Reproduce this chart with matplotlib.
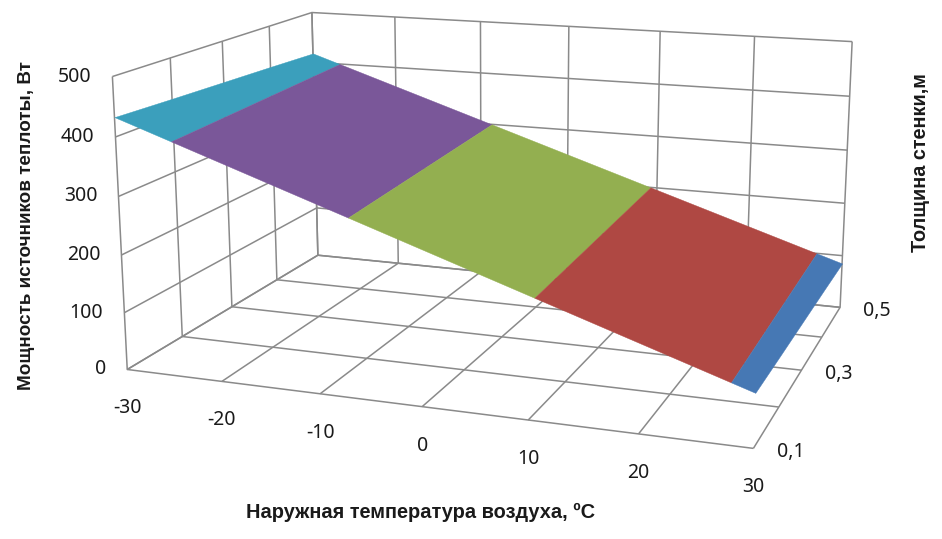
import numpy as np
import matplotlib
matplotlib.use("Agg")
import matplotlib.pyplot as plt
from mpl_toolkits.mplot3d import proj3d
from mpl_toolkits.mplot3d.art3d import Poly3DCollection

plt.rcParams['font.family'] = ['Noto Sans', 'DejaVu Sans']

temps = [-30, -20, -10, 0, 10, 20, 30]
thickness = [0.1, 0.2, 0.3, 0.4, 0.5]
power_01 = [433, 375.5, 318, 260.5, 203, 145.5, 88]
power_02 = [429, 372, 315, 258, 201, 144, 87]
power_03 = [425.5, 369, 312.5, 256, 199.5, 143, 86.5]
power_04 = [422, 366, 310, 254, 198, 142, 86]
power_05 = [418, 362.5, 307, 251.5, 196, 140.5, 85]
power_ticks = [0, 100, 200, 300, 400, 500]
thickness_labels = {0.1: "0,1", 0.3: "0,3", 0.5: "0,5"}
band_colors = ['#4678B4', '#AF4843', '#93AF50', '#7A5799', '#3B9FBC']

fig_w, fig_h = 942, 539
fig = plt.figure(figsize=(fig_w / 100, fig_h / 100), dpi=100)

# camera and axes box worked out against the corners of the reference
scale, center_x, center_y = 4222.8, 501.85, 200.04
side = scale * 0.185
ax = fig.add_axes([(center_x - 0.095 * scale) / fig_w,
                   (fig_h - center_y - 0.095 * scale) / fig_h,
                   side / fig_w, side / fig_h], projection='3d')
ax.set_xlim(-30, 30, view_margin=0)
ax.set_ylim(0.1, 0.5, view_margin=0)
ax.set_zlim(0, 500, view_margin=0)
ax.set_box_aspect((2.139, 1.510, 1))
ax.set_proj_type('persp', focal_length=0.447)
ax.view_init(elev=14.009, azim=-70.378)

ax.patch.set_alpha(0)
for axis in (ax.xaxis, ax.yaxis, ax.zaxis):
    axis.set_pane_color((1, 1, 1, 0))
    axis.pane.set_edgecolor((1, 1, 1, 0))
    axis.line.set_color((1, 1, 1, 0))
    axis._axinfo['grid'].update(color='#8a8a8a', linewidth=1.1)
    axis._axinfo['tick'].update(inward_factor=0, outward_factor=0)
ax.set_xticks(temps)
ax.set_yticks(thickness)
ax.set_zticks(power_ticks)
ax.set_xticklabels([])
ax.set_yticklabels([])
ax.set_zticklabels([])

power = np.array([power_01, power_02, power_03, power_04, power_05])


def clip(poly, lo, hi):
    """Cuts a polygon down to the part with lo <= z <= hi."""
    for limit, sign in ((lo, 1), (hi, -1)):
        out = []
        for i in range(len(poly)):
            a, b = np.array(poly[i]), np.array(poly[(i + 1) % len(poly)])
            da, db = sign * (a[2] - limit), sign * (b[2] - limit)
            if da >= 0:
                out.append(a)
            if da * db < 0:
                out.append(a + (b - a) * da / (da - db))
        poly = out
    return poly


# outline of the surface, so each colour band is one polygon with no seams
outline = [(t, thickness[0], z) for t, z in zip(temps, power[0])]
outline += [(temps[-1], y, z) for y, z in zip(thickness[1:], power[1:, -1])]
outline += [(t, thickness[-1], z) for t, z in zip(temps[-2::-1], power[-1, -2::-1])]
outline += [(temps[0], y, z) for y, z in zip(thickness[-2:0:-1], power[-2:0:-1, 0])]

for k, color in enumerate(band_colors):
    piece = clip(outline, power_ticks[k], power_ticks[k + 1])
    ax.add_collection3d(Poly3DCollection([piece], facecolor=color, edgecolor=color, linewidth=0.3))


def tick_label(x, y, z, text, dx, dy, **kw):
    px, py, _ = proj3d.proj_transform(x, y, z, ax.get_proj())
    ax.annotate(text, (px, py), xytext=(dx * 0.72, dy * 0.72), textcoords='offset points',
                va='center', fontsize=14, color='#1a1a1a', **kw)


for t in temps:
    tick_label(t, 0.1, 0, str(t), 0, -39, ha='center')
for z in power_ticks:
    tick_label(-30, 0.1, z, str(z), -21, 0, ha='right')
for y, text in thickness_labels.items():
    tick_label(30, y, 0, text, 37, -4, ha='center')

title_font = dict(family='Liberation Sans', fontweight='bold', color='#1a1a1a',
                  ha='center', va='center')
fig.text(421 / fig_w, 1 - 512 / fig_h, "Наружная температура воздуха, ºС", fontsize=14.4, **title_font)
fig.text(27 / fig_w, 1 - 226 / fig_h, "Мощность источников теплоты, Вт", rotation=90,
         fontsize=13.6, **title_font)
fig.text(920 / fig_w, 1 - 163 / fig_h, "Толщина стенки,м", rotation=90, fontsize=14.3, **title_font)
fig.savefig("out.png", dpi=100)
